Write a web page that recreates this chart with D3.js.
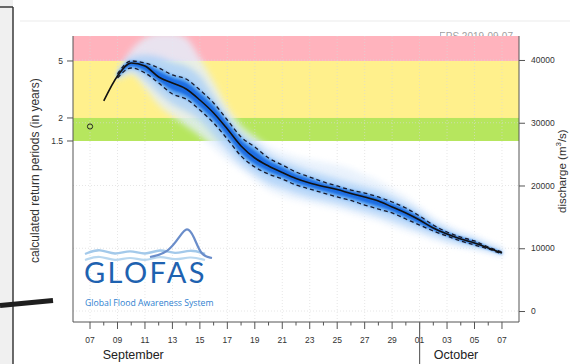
<!DOCTYPE html>
<html><head><meta charset="utf-8">
<script src="https://cdn.jsdelivr.net/npm/d3@7"></script>
<style>
html,body{margin:0;padding:0;background:#fff;}
svg{display:block;font-family:"Liberation Sans",Arial,Helvetica,sans-serif;}
</style></head>
<body><svg id="c" width="570" height="364"></svg>
<script>
// ---- data ----
const startDay = "2019-09-07";
const endDay = "2019-10-07";
const obsDate = "2019-09-07";
const obsValue = 29400;
const medianStartDate = "2019-09-08";
const median = [33470, 37450, 39520, 39040, 37290, 36330, 35380, 33620, 31550, 29000, 26290, 24380, 23110, 22070, 21120, 20400, 19840, 19360, 18720, 18170, 17530, 16570, 15620, 14500, 13230, 12270, 11470, 10840, 10040, 9240];
const ensStartDate = "2019-09-09";
const q75 = [37770, 39840, 39520, 38720, 37610, 36970, 35220, 33150, 30440, 27730, 26140, 24380, 23270, 22150, 21350, 20560, 19920, 19280, 18800, 18170, 17370, 16410, 15140, 13700, 12590, 11790, 11160, 10200, 9400];
const q25 = [37130, 38720, 37930, 36330, 34580, 33780, 32030, 29960, 27410, 24700, 22950, 21830, 21040, 20080, 19440, 18800, 18170, 17610, 16890, 16250, 15620, 14660, 13700, 12750, 11950, 11160, 10520, 9880, 9080];
const q90 = [37770, 40480, 40800, 40480, 39680, 39040, 37450, 34260, 31080, 28370, 26770, 25020, 23900, 23110, 22310, 21670, 21040, 20400, 19760, 19120, 18170, 17050, 15780, 14180, 13070, 12110, 11470, 10520, 9720];
const q10 = [36970, 38250, 36810, 34740, 32990, 31870, 30440, 28050, 25660, 23430, 21830, 20400, 19600, 18800, 18170, 17690, 17210, 16570, 15940, 15300, 14500, 13700, 12910, 12110, 11310, 10680, 10200, 9720, 8920];
const qMax = [37770, 41590, 43510, 44300, 44300, 43510, 40320, 36500, 32500, 29500, 27800, 26200, 25300, 24600, 24100, 23700, 23270, 22630, 21670, 20720, 19440, 18170, 16570, 14980, 13700, 12750, 11950, 11000, 10040];
const qMin = [36810, 37770, 35540, 32830, 31080, 29480, 27890, 25980, 24060, 22470, 20880, 19280, 18330, 17690, 17210, 16730, 16250, 15620, 14980, 14340, 13550, 12750, 12110, 11310, 10680, 10200, 9880, 9400, 8760];
const rpLabels = ["5", "2", "1.5"];
const rpThresholds = [39840, 30760, 27090];
const dischargeTicks = [0, 10000, 20000, 30000, 40000];
const monthLabels = ["September", "October"];
const monthStarts = ["2019-10-01"];

// ---- layout ----
const W = 570, H = 364;
const P = {l: 73, r: 519, t: 36, b: 322};
const DAY = 864e5;
const parse = s => new Date(s + "T00:00:00Z");
const x = d3.scaleUtc()
  .domain([new Date(+parse(startDay) - 1.24 * DAY), new Date(+parse(endDay) + 1.24 * DAY)])
  .range([P.l, P.r]);
const y = d3.scaleLinear().domain([-1750, 43820]).range([P.b, P.t]);

const svg = d3.select("#c");

// page decorations around the chart
svg.append("rect").attr("x", 0).attr("y", 0).attr("width", 13).attr("height", H).attr("fill", "#f0f0f0");
svg.append("line").attr("x1", 13).attr("x2", 13).attr("y1", 7).attr("y2", H).attr("stroke", "#3a3a3a").attr("stroke-width", 1.5);
svg.append("line").attr("x1", 0).attr("x2", 13).attr("y1", 7).attr("y2", 7).attr("stroke", "#3a3a3a").attr("stroke-width", 1.5);
svg.append("line").attr("x1", 20).attr("x2", W).attr("y1", 21).attr("y2", 21).attr("stroke", "#ebebeb").attr("stroke-width", 1);

const defs = svg.append("defs");
defs.append("clipPath").attr("id", "plotclip").append("rect")
  .attr("x", P.l).attr("y", P.t).attr("width", P.r - P.l).attr("height", P.b - P.t);
[["blur3", 3], ["blur2", 1.8], ["blur1", 1]].forEach(([id, s]) => {
  defs.append("filter").attr("id", id).attr("x", "-20%").attr("y", "-20%").attr("width", "140%").attr("height", "140%")
    .append("feGaussianBlur").attr("stdDeviation", s);
});

// clipped header text remnant above the plot
defs.append("clipPath").attr("id", "hdrclip").append("rect").attr("x", 440).attr("y", 32).attr("width", 80).attr("height", 4);
svg.append("text").attr("clip-path", "url(#hdrclip)").attr("x", 513).attr("y", 40).attr("text-anchor", "end")
  .attr("font-size", 10).attr("fill", "#a0a0a0").text("EPS 2019-09-07");

const plot = svg.append("g").attr("clip-path", "url(#plotclip)");

// return-period bands
const yTop = y.domain()[1];
const bands = [
  {lo: rpThresholds[0], hi: yTop, c: "#ffb3bd"},
  {lo: rpThresholds[1], hi: rpThresholds[0], c: "#fff08c"},
  {lo: rpThresholds[2], hi: rpThresholds[1], c: "#b6e65e"}
];
plot.selectAll("rect.band").data(bands).join("rect").attr("class", "band")
  .attr("x", P.l).attr("width", P.r - P.l)
  .attr("y", d => y(d.hi)).attr("height", d => y(d.lo) - y(d.hi))
  .attr("fill", d => d.c);

// grid
const allDays = d3.utcDay.range(parse(startDay), new Date(+parse(endDay) + DAY));
const majorDays = allDays.filter((d, i) => i % 2 === 0);
plot.selectAll("line.vg").data(majorDays).join("line").attr("class", "vg")
  .attr("x1", d => x(d)).attr("x2", d => x(d)).attr("y1", P.t).attr("y2", P.b)
  .attr("stroke", "#d8d8d8").attr("stroke-width", 0.8).attr("stroke-dasharray", "1,2").attr("opacity", 0.8);
plot.selectAll("line.hg").data(dischargeTicks).join("line").attr("class", "hg")
  .attr("x1", P.l).attr("x2", P.r).attr("y1", d => y(d)).attr("y2", d => y(d))
  .attr("stroke", "#d8d8d8").attr("stroke-width", 0.8).attr("stroke-dasharray", "1,2").attr("opacity", 0.8);

// ensemble
const ens0 = parse(ensStartDate);
const ensDates = q75.map((_, i) => d3.utcDay.offset(ens0, i));
const med0 = parse(medianStartDate);
const medDates = median.map((_, i) => d3.utcDay.offset(med0, i));
const medOnEns = ensDates.map(d => median[d3.utcDay.count(med0, d)]);
const ens = ensDates.map((d, i) => ({d, max: qMax[i], min: qMin[i], q90: q90[i], q10: q10[i], q75: q75[i], q25: q25[i], m: medOnEns[i]}));

const area = (a, b) => d3.area().curve(d3.curveMonotoneX).x(d => x(d.d)).y0(d => y(d[a])).y1(d => y(d[b]));
plot.append("path").datum(ens).attr("d", area("min", "max")).attr("fill", "#e4effc").attr("opacity", 0.8).attr("filter", "url(#blur3)");
plot.append("path").datum(ens).attr("d", area("q10", "q90")).attr("fill", "#a9cff8").attr("opacity", 0.8).attr("filter", "url(#blur3)");
plot.append("path").datum(ens).attr("d", area("q25", "q75")).attr("fill", "#5aa3f1").attr("opacity", 0.92).attr("filter", "url(#blur2)");
const inner = ens.map(e => ({d: e.d, a: e.m + (e.q25 - e.m) * 0.62, b: e.m + (e.q75 - e.m) * 0.62}));
plot.append("path").datum(inner).attr("d", area("a", "b")).attr("fill", "#1a6de2").attr("filter", "url(#blur1)");

const line = k => d3.line().curve(d3.curveMonotoneX).x(d => x(d.d)).y(d => y(d[k]));
plot.append("path").datum(ens).attr("d", line("q75")).attr("fill", "none").attr("stroke", "#1a1a2a").attr("stroke-width", 1.3).attr("stroke-dasharray", "4,3");
plot.append("path").datum(ens).attr("d", line("q25")).attr("fill", "none").attr("stroke", "#1a1a2a").attr("stroke-width", 1.3).attr("stroke-dasharray", "4,3");
plot.append("path").datum(medDates.map((d, i) => ({d, v: median[i]}))).attr("d", line("v"))
  .attr("fill", "none").attr("stroke", "#111").attr("stroke-width", 1.6);

// observation
plot.append("circle").attr("cx", x(parse(obsDate))).attr("cy", y(obsValue)).attr("r", 2.6)
  .attr("fill", "none").attr("stroke", "#222").attr("stroke-width", 1);

// frame
svg.append("path").attr("d", `M${P.l},${P.t}V${P.b}H${P.r}V${P.t}`).attr("fill", "none").attr("stroke", "#555").attr("stroke-width", 1);

// left axis (return periods)
const la = svg.append("g").attr("font-size", 8.5).attr("fill", "#333");
rpThresholds.forEach((v, i) => {
  la.append("line").attr("x1", P.l - 6).attr("x2", P.l).attr("y1", y(v)).attr("y2", y(v)).attr("stroke", "#555");
  la.append("text").attr("x", P.l - 10).attr("y", y(v)).attr("dy", "0.35em").attr("text-anchor", "end").text(rpLabels[i]);
});
svg.append("text").attr("transform", `translate(39,263) rotate(-90)`).attr("font-size", 12).attr("fill", "#333")
  .text("calculated return periods (in years)");

// right axis (discharge)
const ra = svg.append("g").attr("transform", `translate(${P.r},0)`)
  .call(d3.axisRight(y).tickValues(dischargeTicks).tickSize(6).tickPadding(6).tickFormat(d3.format("d")));
ra.select(".domain").remove();
ra.selectAll("line").attr("stroke", "#555");
ra.selectAll("text").attr("font-size", 8.5).attr("fill", "#333").attr("font-family", "Liberation Sans, Arial, sans-serif");
const rl = svg.append("text").attr("transform", `translate(565.5,213) rotate(-90)`).attr("font-size", 11.5).attr("fill", "#333");
rl.append("tspan").text("discharge (m");
rl.append("tspan").attr("font-size", 8).attr("dy", -4.5).text("3");
rl.append("tspan").attr("dy", 4.5).text("/s)");

// bottom axis
const ba = svg.append("g").attr("transform", `translate(0,${P.b})`);
ba.selectAll("line.mt").data(allDays).join("line").attr("class", "mt")
  .attr("x1", d => x(d)).attr("x2", d => x(d)).attr("y1", 0)
  .attr("y2", (d, i) => i % 2 === 0 ? 7 : 3.5).attr("stroke", "#555");
ba.selectAll("text.tl").data(majorDays).join("text").attr("class", "tl")
  .attr("x", d => x(d)).attr("y", 21).attr("text-anchor", "middle")
  .attr("font-size", 8.5).attr("fill", "#333").text(d3.utcFormat("%d"));
monthStarts.forEach(m => {
  ba.append("line").attr("x1", x(parse(m))).attr("x2", x(parse(m))).attr("y1", 0).attr("y2", H - P.b)
    .attr("stroke", "#666").attr("stroke-width", 1.2);
});
const monthCenters = [x(parse("2019-09-10")) + 2, x(parse("2019-10-03")) + 9];
monthLabels.forEach((t, i) => {
  ba.append("text").attr("x", monthCenters[i]).attr("y", 37).attr("text-anchor", "middle")
    .attr("font-size", 12.5).attr("fill", "#222").text(t);
});

// decorative stroke at left
svg.append("line").attr("x1", 0).attr("y1", 305.5).attr("x2", 53).attr("y2", 300.5)
  .attr("stroke", "#1e1e1e").attr("stroke-width", 5);

// GLOFAS logo
const logo = svg.append("g");
const wave = d3.line().curve(d3.curveBasis);
logo.append("path").attr("d", wave([[85,254],[100,248],[115,256],[130,249],[145,256],[160,248],[175,255],[190,249],[205,254]]))
  .attr("fill", "none").attr("stroke", "#a3c9ea").attr("stroke-width", 2.4);
logo.append("path").attr("d", wave([[85,260],[100,255],[115,262],[130,256],[145,262],[160,255],[175,261],[190,256],[205,260]]))
  .attr("fill", "none").attr("stroke", "#b8d7ef").attr("stroke-width", 2.2);
logo.append("path").attr("d", wave([[150,257],[168,253],[180,236],[187,226],[194,236],[201,256],[212,258]]))
  .attr("fill", "none").attr("stroke", "#6a8dca").attr("stroke-width", 2.2);
logo.append("text").attr("x", 84).attr("y", 283).attr("font-family", "Lato, 'Open Sans', sans-serif")
  .attr("font-size", 29).attr("fill", "#1e62b0").attr("letter-spacing", 2.4).text("GLOFAS");
logo.append("text").attr("x", 85).attr("y", 306).attr("font-family", "'Open Sans', Lato, sans-serif")
  .attr("font-size", 8.7).attr("fill", "#2f7fd0").text("Global Flood Awareness System");
</script></body></html>
